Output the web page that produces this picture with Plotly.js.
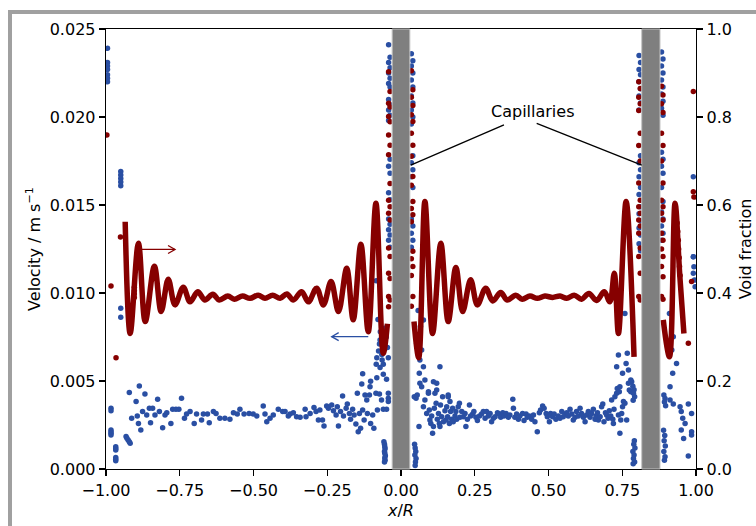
<!DOCTYPE html>
<html>
<head>
<meta charset="utf-8">
<script src="https://cdn.plot.ly/plotly-3.0.1.min.js"></script>
<style>
html,body{margin:0;padding:0;background:#fff;}
#wrap{position:relative;width:756px;height:526px;overflow:hidden;}
#chart{position:absolute;left:0;top:0;width:756px;height:526px;}
#frame{position:absolute;left:8px;top:10px;width:900px;height:700px;border-left:4px solid #a0a0a0;border-top:4px solid #a0a0a0;pointer-events:none;}
</style>
</head>
<body>
<div id="wrap"><div id="chart"></div><div id="frame"></div></div>
<script>
// ---------- Void fraction profile (right axis) ----------
var voidLeftX = [-0.935,-0.918,-0.890,-0.867,-0.836,-0.813,-0.789,-0.766,-0.738,-0.715,-0.689,-0.665,-0.638,-0.616,-0.587,-0.565,-0.537,-0.512,-0.484,-0.461,-0.435,-0.410,-0.387,-0.365,-0.337,-0.314,-0.286,-0.263,-0.237,-0.212,-0.184,-0.162,-0.136,-0.111,-0.085,-0.060,-0.046];
var voidLeftY = [0.562,0.308,0.513,0.335,0.461,0.358,0.431,0.373,0.413,0.380,0.403,0.384,0.397,0.384,0.393,0.386,0.393,0.388,0.395,0.388,0.395,0.388,0.398,0.384,0.403,0.380,0.411,0.373,0.426,0.358,0.456,0.339,0.511,0.312,0.604,0.263,0.330];
var voidMidX = [0.044,0.060,0.081,0.107,0.135,0.160,0.186,0.209,0.236,0.259,0.287,0.311,0.338,0.360,0.389,0.411,0.437,0.462,0.488,0.514,0.539,0.562,0.587,0.612,0.637,0.663,0.689,0.708,0.723,0.737,0.763,0.790];
var voidMidY = [0.335,0.253,0.608,0.308,0.513,0.335,0.458,0.358,0.430,0.373,0.411,0.382,0.401,0.384,0.395,0.386,0.393,0.388,0.393,0.390,0.393,0.388,0.395,0.386,0.399,0.383,0.403,0.380,0.445,0.308,0.608,0.255];
var voidRightX = [0.889,0.910,0.929,0.945,0.959];
var voidRightY = [0.339,0.255,0.604,0.440,0.308];

// ---------- Void fraction scattered samples ----------
var redWallX = [-0.997,-0.983,-0.966,-0.951,-0.904,-0.904,-0.904,-0.904,0.936,0.938,0.940,0.941,0.943,0.944,0.946,0.974,0.985,0.991,0.991,0.993];
var redWallY = [0.759,0.416,0.253,0.527,0.413,0.405,0.398,0.390,0.559,0.540,0.520,0.500,0.480,0.460,0.440,0.286,0.426,0.858,0.630,0.618];
var redCap1LX = -0.040;
var redCap1L = [0.903,0.858,0.831,0.823,0.801,0.789,0.759,0.736,0.714,0.649,0.611,0.596,0.581,0.566,0.502,0.483,0.445,0.433,0.392,0.384,0.369];
var redCap1RX = 0.037;
var redCap1R = [0.905,0.862,0.845,0.826,0.805,0.790,0.763,0.736,0.711,0.665,0.645,0.608,0.592,0.578,0.562,0.495,0.478,0.460,0.440,0.392,0.370];
var redCap2LX = 0.808;
var redCap2L = [0.880,0.865,0.845,0.830,0.815,0.763,0.735,0.700,0.650,0.611,0.596,0.581,0.566,0.552,0.536,0.502,0.483,0.445,0.392,0.384];
var redCap2RX = 0.885;
var redCap2R = [0.870,0.850,0.830,0.810,0.763,0.735,0.700,0.650,0.611,0.596,0.581,0.566,0.536,0.520,0.500,0.483,0.460,0.437,0.392,0.386];

// ---------- Velocity samples (left axis) ----------
var velWallX = [-0.995,-0.995,-0.995,-0.995,-0.995,-0.995,-0.995,-0.950,-0.950,-0.950,-0.950,-0.950,-0.950,-0.950,0.991,0.991,0.993,0.991,0.995,0.991,0.997];
var velWallV = [0.0239,0.0231,0.0229,0.0227,0.0224,0.0222,0.0220,0.0169,0.0167,0.0165,0.0163,0.0161,0.00913,0.00862,0.0166,0.01206,0.01149,0.01112,0.01074,0.01206,0.01036];

var velLeftX = [-0.983,-0.983,-0.983,-0.983,-0.983,-0.983,-0.967,-0.967,-0.967,-0.967,-0.967,-0.967,-0.932,-0.929,-0.925,-0.921,-0.918,-0.921,-0.913,-0.898,-0.894,-0.887,-0.890,-0.882,-0.876,-0.868,-0.862,-0.853,-0.849,-0.842,-0.834,-0.825,-0.819,-0.808,-0.800,-0.794,-0.780,-0.774,-0.763,-0.753,-0.744,-0.734,-0.727,-0.715,-0.701,-0.693,-0.676,-0.670,-0.656,-0.650,-0.636,-0.627,-0.614,-0.597,-0.580,-0.568,-0.555,-0.546,-0.532,-0.515,-0.501,-0.489,-0.467,-0.461,-0.455,-0.444,-0.433,-0.416,-0.401,-0.393,-0.382,-0.376,-0.365,-0.354,-0.342,-0.325,-0.322,-0.308,-0.295,-0.288,-0.280,-0.275,-0.266,-0.261,-0.252,-0.246,-0.235,-0.229,-0.220,-0.216,-0.212,-0.205,-0.198,-0.195,-0.186,-0.182,-0.175,-0.171,-0.164,-0.159,-0.153,-0.148,-0.145,-0.141,-0.137,-0.133,-0.130,-0.125,-0.122,-0.116,-0.114,-0.107,-0.105,-0.103,-0.096,-0.092,-0.085,-0.080,-0.073,-0.066,-0.060,-0.049,-0.043,-0.043,-0.043];
var velLeftV = [0.00345,0.00331,0.00222,0.00212,0.00203,0.00193,0.00127,0.00117,0.00108,0.00066,0.00056,0.00047,0.00184,0.00175,0.00165,0.00155,0.00146,0.00434,0.00288,0.00383,0.00301,0.00472,0.00259,0.00222,0.00326,0.00426,0.00307,0.00345,0.00263,0.00345,0.00307,0.00396,0.00326,0.00235,0.00307,0.00320,0.00259,0.00339,0.00339,0.00339,0.00402,0.00288,0.00313,0.00326,0.00259,0.00313,0.00278,0.00313,0.00313,0.00263,0.00326,0.00316,0.00288,0.00288,0.00282,0.00320,0.00313,0.00339,0.00313,0.00316,0.00313,0.00301,0.00358,0.00313,0.00269,0.00288,0.00307,0.00339,0.00326,0.00326,0.00301,0.00313,0.00320,0.00297,0.00294,0.00339,0.00297,0.00316,0.00350,0.00326,0.00278,0.00335,0.00278,0.00244,0.00358,0.00345,0.00364,0.00331,0.00307,0.00354,0.00244,0.00326,0.00415,0.00301,0.00345,0.00369,0.00316,0.00282,0.00339,0.00307,0.00256,0.00430,0.00212,0.00316,0.00231,0.00483,0.00335,0.00278,0.00420,0.00392,0.00316,0.00420,0.00468,0.00259,0.00307,0.00231,0.00430,0.00335,0.00426,0.00392,0.00339,0.00339,0.00430,0.00402,0.00383];

var velCap1LowX = [-0.058,-0.056,-0.055,-0.054,-0.056,-0.055,-0.053,-0.055,-0.054,-0.056,0.046,0.048,0.050,0.047,0.051,0.049,0.048];
var velCap1LowV = [0.00155,0.00140,0.00127,0.00115,0.00100,0.00089,0.00075,0.00062,0.00050,0.00040,0.00140,0.00120,0.00100,0.00080,0.00060,0.00040,0.00020];

var velNearCap1X = [-0.084,-0.071,-0.073,-0.076,-0.082,-0.065,-0.084,-0.071,-0.060,-0.130,-0.103,-0.082,-0.049,-0.060,-0.043,-0.046,-0.050,-0.055,-0.078,-0.070,-0.064,0.076,0.053,0.070,0.064,0.076,0.062,0.081,0.110,0.132,0.093,0.121,0.160,0.058,0.066];
var velNearCap1V = [0.0107,0.00733,0.0071,0.0067,0.00632,0.0065,0.00595,0.00576,0.00538,0.00541,0.00499,0.00519,0.0051,0.00595,0.00632,0.0069,0.0075,0.0080,0.0085,0.0078,0.0062,0.00847,0.00714,0.00676,0.00619,0.00581,0.00544,0.00506,0.00496,0.00581,0.0043,0.00449,0.00411,0.0090,0.0081];

var velMidX = [0.045,0.051,0.055,0.064,0.070,0.061,0.076,0.081,0.087,0.093,0.096,0.098,0.101,0.104,0.107,0.110,0.113,0.115,0.119,0.121,0.123,0.127,0.130,0.132,0.134,0.138,0.141,0.144,0.149,0.153,0.155,0.158,0.160,0.164,0.166,0.168,0.172,0.175,0.177,0.183,0.186,0.189,0.194,0.198,0.200,0.206,0.211,0.217,0.220,0.225,0.232,0.236,0.243,0.247,0.254,0.259,0.266,0.273,0.279,0.285,0.290,0.296,0.302,0.307,0.313,0.319,0.327,0.333,0.338,0.345,0.349,0.356,0.364,0.369,0.379,0.381,0.386,0.392,0.398,0.403,0.412,0.417,0.424,0.428,0.435,0.443,0.449,0.454,0.462,0.469,0.473,0.480,0.485,0.492,0.496,0.503,0.507,0.514,0.519,0.525,0.533,0.539,0.545,0.550,0.556,0.562,0.567,0.573,0.579,0.584,0.590,0.595,0.601,0.607,0.612,0.618,0.624,0.629,0.635,0.641,0.646,0.652,0.658,0.661,0.666,0.669,0.675,0.680,0.684,0.688,0.693,0.697,0.702,0.706,0.711,0.714,0.718,0.720,0.722,0.725,0.731,0.733,0.737,0.740,0.742,0.745,0.748,0.751,0.754,0.759,0.765,0.771,0.774,0.779,0.782];
var velMidV = [0.00411,0.00402,0.00420,0.00487,0.00468,0.00241,0.00354,0.00392,0.00316,0.00439,0.00335,0.00278,0.00259,0.00301,0.00203,0.00241,0.00345,0.00430,0.00373,0.00487,0.00282,0.00316,0.00259,0.00241,0.00364,0.00297,0.00411,0.00269,0.00331,0.00278,0.00354,0.00297,0.00420,0.00259,0.00383,0.00326,0.00282,0.00345,0.00269,0.00301,0.00326,0.00282,0.00354,0.00373,0.00294,0.00326,0.00297,0.00316,0.00241,0.00282,0.00364,0.00301,0.00313,0.00326,0.00294,0.00275,0.00301,0.00313,0.00326,0.00288,0.00326,0.00301,0.00316,0.00269,0.00288,0.00297,0.00320,0.00313,0.00294,0.00320,0.00301,0.00316,0.00294,0.00307,0.00396,0.00345,0.00294,0.00313,0.00282,0.00301,0.00316,0.00275,0.00313,0.00294,0.00301,0.00282,0.00307,0.00269,0.00212,0.00320,0.00335,0.00358,0.00345,0.00316,0.00297,0.00269,0.00316,0.00297,0.00313,0.00282,0.00301,0.00288,0.00326,0.00297,0.00313,0.00320,0.00301,0.00339,0.00313,0.00278,0.00294,0.00326,0.00301,0.00345,0.00316,0.00294,0.00269,0.00307,0.00326,0.00294,0.00316,0.00339,0.00282,0.00301,0.00320,0.00278,0.00297,0.00354,0.00369,0.00269,0.00320,0.00307,0.00288,0.00331,0.00301,0.00392,0.00282,0.00259,0.00339,0.00411,0.00430,0.00458,0.00307,0.00439,0.00203,0.00278,0.00316,0.00354,0.00383,0.00373,0.00278,0.00487,0.00449,0.00439,0.00496];

var velCap2X = [0.737,0.767,0.763,0.771,0.751,0.779,0.731,0.742,0.759,0.786,0.790,0.788,0.792,0.787,0.791,0.789,0.793,0.786,0.790,0.788,0.792,0.787,0.891,0.895,0.893,0.897,0.890,0.894,0.892,0.896,0.891,0.895,0.893,0.910,0.923,0.918,0.934,0.921,0.912,0.912,0.923,0.946,0.950,0.955,0.963,0.950,0.958,0.974,0.985,0.985,0.985,0.974];
var velCap2V = [0.00648,0.00657,0.0060,0.00563,0.00544,0.00506,0.00581,0.00468,0.00884,0.0047,0.0045,0.0043,0.0041,0.0039,0.0016,0.0014,0.0012,0.0010,0.0008,0.0006,0.0004,0.0003,0.0042,0.0040,0.0038,0.0036,0.0022,0.0019,0.0016,0.0013,0.0010,0.0007,0.0005,0.00884,0.00752,0.00676,0.0060,0.00544,0.00468,0.00392,0.00369,0.00354,0.00326,0.00288,0.00259,0.00222,0.00174,0.00369,0.00316,0.00212,0.00193,0.00074];

var velTopCap1LX = -0.040;
var velTopCap1L = [0.0241,0.0234,0.0231,0.0228,0.0225,0.0222,0.0219,0.0217,0.0210,0.0207,0.0204,0.0201,0.0198,0.0176,0.0172,0.0168,0.0157,0.0153,0.0142,0.0139,0.0136,0.0133,0.0130,0.0126];
var velTopCap1RX = 0.037;
var velTopCap1R = [0.0236,0.0232,0.0229,0.0225,0.0221,0.0217,0.0212,0.0208,0.0204,0.0200,0.0196,0.0178,0.0174,0.0170,0.0166,0.0160,0.0142,0.0138,0.0134,0.0130,0.0126];
var velTopCap2LX = 0.809;
var velTopCap2L = [0.0235,0.0231,0.0227,0.0224,0.0220,0.0216,0.0212,0.0208,0.0204,0.0178,0.0174,0.0170,0.0166,0.0160,0.0156,0.0149,0.0145,0.0141,0.0137,0.0133,0.0128,0.0124];
var velTopCap2RX = 0.885;
var velTopCap2R = [0.0237,0.0233,0.0229,0.0225,0.0221,0.0217,0.0213,0.0209,0.0205,0.0201,0.0180,0.0176,0.0172,0.0168,0.0160,0.0152,0.0146,0.0142,0.0138,0.0134,0.0130];

// capillary positions (x/R)
var capillaryStart = [-0.030, 0.816];
var capillaryEnd = [0.030, 0.878];

// ticks
var xTicks = [-1.0,-0.75,-0.5,-0.25,0,0.25,0.5,0.75,1.0];

// ---------- assemble ----------
function col(x, arr){ return arr.map(function(_,i){ return x + ((i%2)?0.003:-0.002); }); }
var voidX = voidLeftX.concat([null], voidMidX, [null], voidRightX);
var voidY = voidLeftY.concat([null], voidMidY, [null], voidRightY);

var redX = redWallX.concat(col(redCap1LX,redCap1L), col(redCap1RX,redCap1R), col(redCap2LX,redCap2L), col(redCap2RX,redCap2R));
var redY = redWallY.concat(redCap1L, redCap1R, redCap2L, redCap2R);

var blueX = velWallX.concat(velLeftX, velCap1LowX, velNearCap1X, velMidX, velCap2X,
  col(velTopCap1LX,velTopCap1L), col(velTopCap1RX,velTopCap1R), col(velTopCap2LX,velTopCap2L), col(velTopCap2RX,velTopCap2R));
var blueY = velWallV.concat(velLeftV, velCap1LowV, velNearCap1V, velMidV, velCap2V,
  velTopCap1L, velTopCap1R, velTopCap2L, velTopCap2R);

var BLUE = '#2a4fa3', RED = '#860000';
var FONT = 'DejaVu Sans, sans-serif';

var traces = [
  {x: blueX, y: blueY, type: 'scatter', mode: 'markers', yaxis: 'y',
   marker: {color: BLUE, size: 5.5, line: {width: 0}}, hoverinfo: 'skip', showlegend: false},
  {x: redX, y: redY, type: 'scatter', mode: 'markers', yaxis: 'y2',
   marker: {color: RED, size: 5.5, line: {width: 0}}, hoverinfo: 'skip', showlegend: false},
  {x: voidX, y: voidY, type: 'scatter', mode: 'lines', yaxis: 'y2', connectgaps: false,
   line: {color: RED, width: 5.5, shape: 'spline', smoothing: 1.0}, hoverinfo: 'skip', showlegend: false}
];

var shapes = [];
for (var i = 0; i < capillaryStart.length; i++) {
  shapes.push({type: 'rect', xref: 'x', yref: 'paper', x0: capillaryStart[i], x1: capillaryEnd[i], y0: 0, y1: 1,
    fillcolor: '#7f7f7f', line: {color: '#c4c4c4', width: 1}, layer: 'above'});
}
// annotation leader lines for "Capillaries"
shapes.push({type: 'line', xref: 'x', yref: 'y', x0: 0.349, y0: 0.01955, x1: 0.033, y1: 0.01727, line: {color: '#000', width: 1.3}, layer: 'above'});
shapes.push({type: 'line', xref: 'x', yref: 'y', x0: 0.460, y0: 0.01964, x1: 0.816, y1: 0.01727, line: {color: '#000', width: 1.3}, layer: 'above'});
// axis-pointer arrows: shafts
shapes.push({type: 'line', xref: 'x', yref: 'y2', x0: -0.881, y0: 0.499, x1: -0.766, y1: 0.499, line: {color: RED, width: 1.3}, layer: 'above'});
shapes.push({type: 'line', xref: 'x', yref: 'y', x0: -0.111, y0: 0.00752, x1: -0.235, y1: 0.00752, line: {color: BLUE, width: 1.3}, layer: 'above'});
// arrow heads (pixel-sized chevrons anchored at tips)
shapes.push({type: 'path', xref: 'x', yref: 'y2', xsizemode: 'pixel', ysizemode: 'pixel', xanchor: -0.766, yanchor: 0.499,
  path: 'M-7,-4L0,0L-7,4', line: {color: RED, width: 1.3}, layer: 'above'});
shapes.push({type: 'path', xref: 'x', yref: 'y', xsizemode: 'pixel', ysizemode: 'pixel', xanchor: -0.235, yanchor: 0.00752,
  path: 'M7,-4L0,0L7,4', line: {color: BLUE, width: 1.3}, layer: 'above'});

var annotations = [
  {x: 0.446, y: 0.0203, xref: 'x', yref: 'y', text: 'Capillaries', showarrow: false,
   font: {family: FONT, size: 16, color: '#000'}}
];

var axisCommon = {
  showgrid: false, zeroline: false, showline: true, linecolor: '#000', linewidth: 1.3,
  ticks: 'outside', ticklen: 6, tickwidth: 1.3, tickcolor: '#000',
  tickfont: {family: FONT, size: 16, color: '#000'}
};

var layout = {
  width: 756, height: 526,
  margin: {l: 106, r: 60, t: 29, b: 57, pad: 0},
  paper_bgcolor: '#fff', plot_bgcolor: '#fff',
  font: {family: FONT, size: 16, color: '#000'},
  xaxis: Object.assign({}, axisCommon, {
    range: [-1, 1], tickvals: xTicks, tickformat: '.2f', mirror: true,
    title: {text: '<i>x</i>/<i>R</i>', font: {family: FONT, size: 16, color: '#000'}, standoff: 6}
  }),
  yaxis: Object.assign({}, axisCommon, {
    range: [0, 0.025], dtick: 0.005, tick0: 0, tickformat: '.3f', mirror: true,
    title: {text: 'Velocity / m s<sup>\u22121</sup>', font: {family: FONT, size: 16, color: '#000'}, standoff: 5}
  }),
  yaxis2: Object.assign({}, axisCommon, {
    range: [0, 1], dtick: 0.2, tick0: 0, tickformat: '.1f', overlaying: 'y', side: 'right',
    title: {text: 'Void fraction', font: {family: FONT, size: 16, color: '#000'}, standoff: 8}
  }),
  shapes: shapes,
  annotations: annotations,
  showlegend: false
};

Plotly.newPlot('chart', traces, layout, {displayModeBar: false, staticPlot: true});
</script>
</body>
</html>
